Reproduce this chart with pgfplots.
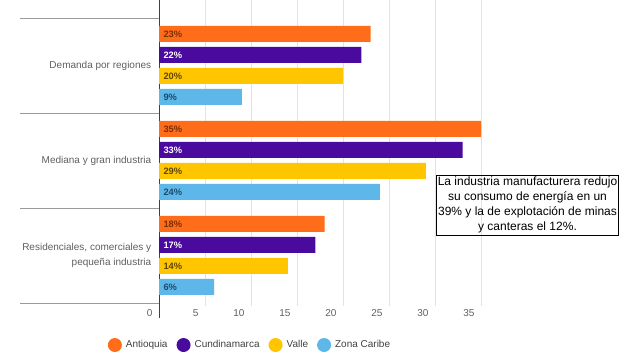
\documentclass[border=0pt]{standalone}
\usepackage{pgfplots}
\pgfplotsset{compat=1.18}
\usepackage{fontspec}
\setmainfont{Liberation Sans}
\definecolor{cAnt}{HTML}{FF6D1A}
\definecolor{cCun}{HTML}{4A0A9E}
\definecolor{cVal}{HTML}{FFC600}
\definecolor{cZon}{HTML}{5DB7E8}
\definecolor{tAnt}{HTML}{7A2E05}
\definecolor{tVal}{HTML}{5C4600}
\definecolor{tZon}{HTML}{1E4A6A}
\definecolor{lblgray}{HTML}{5F5F5F}
\definecolor{gridgray}{HTML}{E3E3E3}
\definecolor{sepgray}{HTML}{9A9A9A}
\begin{document}
\begin{tikzpicture}
\useasboundingbox (0,0) rectangle (632pt,357pt);
\begin{axis}[
  at={(159pt,51pt)}, anchor=south west,
  scale only axis, width=322pt, height=306pt,
  xmin=0, xmax=35, ymin=-0.689, ymax=2.532,
  y dir=reverse,
  /pgf/number format/assume math mode=true,
  xbar, bar width=0.168,
  axis line style={draw=none},
  xtick={0,5,...,35},
  xmajorgrids, grid style={gridgray, line width=0.8pt},
  extra x ticks={0}, extra x tick labels={},
  extra x tick style={grid style={black!75, line width=1pt}},
  xtick style={draw=none}, ytick style={draw=none},
  ytick={0,1,2},
  yticklabels={Demanda por regiones, Mediana y gran industria, {Residenciales, comerciales y\\pequeña industria}},
  yticklabel style={align=right, font=\fontsize{10}{15}\selectfont, text=lblgray, xshift=0pt},
  xticklabel style={anchor=east, xshift=-3pt, yshift=-7pt, font=\fontsize{10}{12}\selectfont, text=lblgray},
  clip=false,
  point meta=x,
  nodes near coords={\pgfmathprintnumber{\pgfplotspointmeta}\%},
  visualization depends on={rawx \as \xv},
  every node near coord/.append style={anchor=west, xshift={-\xv*9.2pt+1pt}, font=\bfseries\fontsize{9.3}{10}\selectfont},
  legend image code/.code={\fill[#1] (7pt,0pt) circle (7pt);},
  legend columns=4,
  legend style={at={(0.2826,-0.1275)}, anchor=center, draw=none, fill=none,
    font=\fontsize{10}{12}\selectfont, text=black!75,
    /tikz/every odd column/.append style={column sep=2pt},
    /tikz/every even column/.append style={column sep=7pt}},
]
\addplot[fill=cAnt, draw=none, bar shift=-0.3316, every node near coord/.append style={text=tAnt}]
  coordinates {(23,0) (35,1) (18,2)};
\addplot[fill=cCun, draw=none, bar shift=-0.1105, every node near coord/.append style={text=white}]
  coordinates {(22,0) (33,1) (17,2)};
\addplot[fill=cVal, draw=none, bar shift=0.1105, every node near coord/.append style={text=tVal}]
  coordinates {(20,0) (29,1) (14,2)};
\addplot[fill=cZon, draw=none, bar shift=0.3316, every node near coord/.append style={text=tZon}]
  coordinates {(9,0) (24,1) (6,2)};
\legend{Antioquia, Cundinamarca, Valle, Zona Caribe}
\draw[sepgray, line width=0.8pt] (axis cs:0,-0.5) -- ([xshift=-139pt]axis cs:0,-0.5);
\draw[sepgray, line width=0.8pt] (axis cs:0,0.5) -- ([xshift=-139pt]axis cs:0,0.5);
\draw[sepgray, line width=0.8pt] (axis cs:0,1.5) -- ([xshift=-139pt]axis cs:0,1.5);
\draw[sepgray, line width=0.8pt] (axis cs:0,2.5) -- ([xshift=-139pt]axis cs:0,2.5);
\draw[black!75, line width=1pt] (axis cs:0,2.5) -- ([yshift=-12pt]axis cs:0,2.532);
\end{axis}
\node[draw, line width=0.6pt, align=center, inner xsep=1pt, inner ysep=2pt, font=\fontsize{12}{15}\selectfont] at (527.5pt,152pt) {La industria manufacturera redujo\\su consumo de energía en un\\39\% y la de explotación de minas\\y canteras el 12\%.};
\end{tikzpicture}
\end{document}
